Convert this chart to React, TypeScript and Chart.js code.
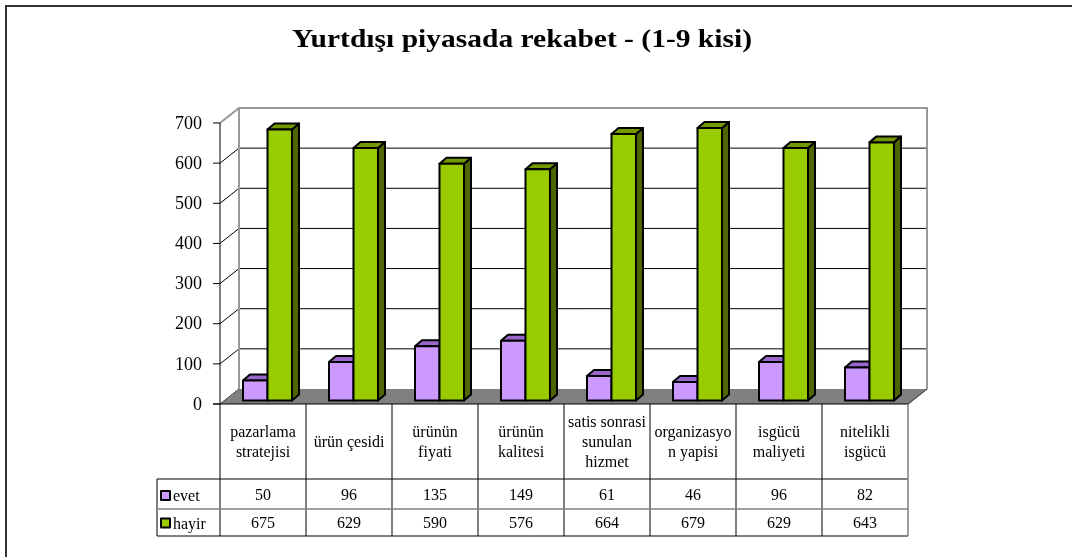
import React, { useEffect, useRef } from "react";
import { Chart, registerables } from "chart.js";

Chart.register(...registerables);

const title = "Yurtdışı piyasada rekabet - (1-9 kisi)";
const categories: string[][] = [
  ["pazarlama", "stratejisi"],
  ["ürün çesidi"],
  ["ürünün", "fiyati"],
  ["ürünün", "kalitesi"],
  ["satis sonrasi", "sunulan", "hizmet"],
  ["organizasyo", "n yapisi"],
  ["isgücü", "maliyeti"],
  ["nitelikli", "isgücü"],
];
const seriesNames = ["evet", "hayir"];
const evet = [50, 96, 135, 149, 61, 46, 96, 82];
const hayir = [675, 629, 590, 576, 664, 679, 629, 643];
const yTicks = [0, 100, 200, 300, 400, 500, 600, 700];

const FRONT = ["#CC99FF", "#99CC00"];
const TOP = ["#9966CC", "#739900"];
const SIDE = ["#7A52A3", "#4D6600"];
const FONT = "'Liberation Serif', 'Times New Roman', serif";

const draw3D = {
  id: "draw3D",
  beforeDraw(chart: any) {
    const ctx = chart.ctx;
    ctx.save();
    ctx.fillStyle = "#ffffff";
    ctx.fillRect(0, 0, chart.width, chart.height);
    ctx.restore();
  },
  afterDraw(chart: any) {
    const ctx: CanvasRenderingContext2D = chart.ctx;
    const xs = chart.scales.x;
    const ys = chart.scales.y;
    const left = xs.left;
    const right = xs.right;
    const y0 = ys.getPixelForValue(0);
    const yMax = ys.getPixelForValue(yTicks[yTicks.length - 1]);
    const DX = 19, DY = -15;
    const n = categories.length;
    const cw = (right - left) / n;
    ctx.save();

    // outer frame
    ctx.strokeStyle = "#333333";
    ctx.lineWidth = 2;
    ctx.beginPath();
    ctx.moveTo(6, chart.height);
    ctx.lineTo(6, 6);
    ctx.lineTo(chart.width, 6);
    ctx.stroke();

    // title (stretched horizontally to the reference width)
    ctx.save();
    ctx.fillStyle = "#000";
    ctx.font = "bold 26px " + FONT;
    ctx.textAlign = "center";
    ctx.textBaseline = "alphabetic";
    const tw = ctx.measureText(title).width;
    const sx = 460 / tw;
    ctx.translate(522, 47);
    ctx.scale(sx, 1);
    ctx.fillText(title, 0, 0);
    ctx.restore();

    // back wall
    ctx.fillStyle = "#ffffff";
    ctx.fillRect(left + DX, yMax + DY, right - left, y0 - yMax);
    // gridlines back wall + left wall diagonals
    ctx.strokeStyle = "#000";
    ctx.lineWidth = 1;
    for (const t of yTicks) {
      const py = ys.getPixelForValue(t);
      ctx.beginPath();
      if (t !== yTicks[yTicks.length - 1] && t !== 0) {
        ctx.moveTo(left + DX, py + DY);
        ctx.lineTo(right + DX, py + DY);
      }
      ctx.moveTo(left, py);
      ctx.lineTo(left + DX, py + DY);
      ctx.stroke();
    }
    // back wall border
    ctx.strokeStyle = "#999999";
    ctx.lineWidth = 2;
    ctx.beginPath();
    ctx.moveTo(left, yMax);
    ctx.lineTo(left + DX, yMax + DY);
    ctx.lineTo(right + DX, yMax + DY);
    ctx.lineTo(right + DX, y0 + DY);
    ctx.moveTo(left + DX, yMax + DY);
    ctx.lineTo(left + DX, y0 + DY);
    ctx.stroke();

    // floor
    ctx.fillStyle = "#808080";
    ctx.beginPath();
    ctx.moveTo(left, y0);
    ctx.lineTo(right, y0);
    ctx.lineTo(right + DX, y0 + DY);
    ctx.lineTo(left + DX, y0 + DY);
    ctx.closePath();
    ctx.fill();
    ctx.strokeStyle = "#555555";
    ctx.lineWidth = 1.5;
    ctx.beginPath();
    ctx.moveTo(right, y0);
    ctx.lineTo(right + DX, y0 + DY);
    ctx.stroke();

    // bars
    const OX = 4.5, OY = -3.5;
    const BX = 7, BY = -6;
    const metas = [chart.getDatasetMeta(0), chart.getDatasetMeta(1)];
    for (let i = 0; i < n; i++) {
      for (let d = 0; d < 2; d++) {
        const el = metas[d].data[i];
        const p = el.getProps(["x", "y", "base", "width"], true);
        const x1 = p.x - p.width / 2 + OX;
        const x2 = p.x + p.width / 2 + OX;
        const yt = p.y + OY;
        const yb = p.base + OY;
        ctx.lineWidth = 2;
        ctx.lineJoin = "round";
        ctx.strokeStyle = "#000";
        // side
        ctx.fillStyle = SIDE[d];
        ctx.beginPath();
        ctx.moveTo(x2, yb);
        ctx.lineTo(x2 + BX, yb + BY);
        ctx.lineTo(x2 + BX, yt + BY);
        ctx.lineTo(x2, yt);
        ctx.closePath();
        ctx.fill();
        ctx.stroke();
        // top
        ctx.fillStyle = TOP[d];
        ctx.beginPath();
        ctx.moveTo(x1, yt);
        ctx.lineTo(x1 + BX, yt + BY);
        ctx.lineTo(x2 + BX, yt + BY);
        ctx.lineTo(x2, yt);
        ctx.closePath();
        ctx.fill();
        ctx.stroke();
        // front
        ctx.fillStyle = FRONT[d];
        ctx.fillRect(x1, yt, x2 - x1, yb - yt);
        ctx.strokeRect(x1, yt, x2 - x1, yb - yt);
      }
    }

    // y axis
    ctx.strokeStyle = "#000";
    ctx.lineWidth = 1;
    ctx.beginPath();
    ctx.moveTo(left, yMax);
    ctx.lineTo(left, y0);
    ctx.stroke();
    ctx.font = "18px " + FONT;
    ctx.fillStyle = "#000";
    ctx.textAlign = "right";
    ctx.textBaseline = "middle";
    for (const t of yTicks) {
      const py = ys.getPixelForValue(t);
      ctx.beginPath();
      ctx.moveTo(left - 7, py);
      ctx.lineTo(left, py);
      ctx.stroke();
      ctx.fillText(String(t), left - 18, py + 1);
    }

    // data table
    const rHead = y0 + 75;
    const r1 = rHead + 30;
    const r2 = r1 + 27;
    const legL = 157;
    ctx.strokeStyle = "#000";
    ctx.lineWidth = 1;
    ctx.beginPath();
    ctx.moveTo(left - 7, y0);
    ctx.lineTo(right, y0);
    ctx.moveTo(legL, rHead);
    ctx.lineTo(right, rHead);
    ctx.moveTo(legL, r2);
    ctx.lineTo(right, r2);
    ctx.moveTo(legL, rHead);
    ctx.lineTo(legL, r2);
    for (let i = 0; i < n; i++) {
      const bx = left + i * cw;
      ctx.moveTo(bx, y0);
      ctx.lineTo(bx, r2);
    }
    ctx.stroke();
    ctx.strokeStyle = "#808080";
    ctx.lineWidth = 1.5;
    ctx.beginPath();
    ctx.moveTo(legL, r1);
    ctx.lineTo(right, r1);
    ctx.moveTo(right, y0);
    ctx.lineTo(right, r2);
    ctx.stroke();

    ctx.font = "16px " + FONT;
    ctx.fillStyle = "#000";
    ctx.textAlign = "center";
    ctx.textBaseline = "middle";
    const headMid = (y0 + rHead) / 2 + 1;
    const LH = 20;
    for (let i = 0; i < n; i++) {
      const cx = xs.getPixelForValue(i);
      const lines = categories[i];
      const startY = headMid - ((lines.length - 1) * LH) / 2;
      lines.forEach((ln, k) => ctx.fillText(ln, cx, startY + k * LH));
      ctx.fillText(String(evet[i]), cx, (rHead + r1) / 2 + 2);
      ctx.fillText(String(hayir[i]), cx, (r1 + r2) / 2 + 1);
    }
    // legend keys
    const rows = [(rHead + r1) / 2 + 2, (r1 + r2) / 2 + 1];
    ctx.textAlign = "left";
    for (let d = 0; d < 2; d++) {
      const cy = rows[d];
      ctx.fillStyle = FRONT[d];
      ctx.fillRect(161, cy - 5, 9, 9);
      ctx.strokeStyle = "#000";
      ctx.lineWidth = 2;
      ctx.strokeRect(161, cy - 5, 9, 9);
      ctx.fillStyle = "#000";
      ctx.fillText(seriesNames[d], 173, cy + 1);
    }
    ctx.restore();
  },
};

export default function App() {
  const ref = useRef<HTMLCanvasElement | null>(null);
  useEffect(() => {
    if (!ref.current) return;
    const chart = new Chart(ref.current, {
      type: "bar",
      data: {
        labels: categories.map((c) => c.join(" ")),
        datasets: [
          { label: seriesNames[0], data: evet, backgroundColor: "rgba(0,0,0,0)", borderWidth: 0 },
          { label: seriesNames[1], data: hayir, backgroundColor: "rgba(0,0,0,0)", borderWidth: 0 },
        ],
      },
      options: {
        responsive: false,
        animation: false,
        devicePixelRatio: 1,
        layout: { padding: { left: 220, right: 164, top: 123, bottom: 153 } },
        datasets: { bar: { categoryPercentage: 0.57, barPercentage: 1 } },
        scales: {
          x: { display: false, offset: true },
          y: { display: false, min: 0, max: 700 },
        },
        plugins: { legend: { display: false }, tooltip: { enabled: false }, title: { display: false } },
      },
      plugins: [draw3D],
    });
    return () => chart.destroy();
  }, []);
  return (
    <div style={{ position: "fixed", left: 0, top: 0, width: 1072, height: 557 }}>
      <canvas ref={ref} width={1072} height={557} style={{ display: "block" }} />
    </div>
  );
}
